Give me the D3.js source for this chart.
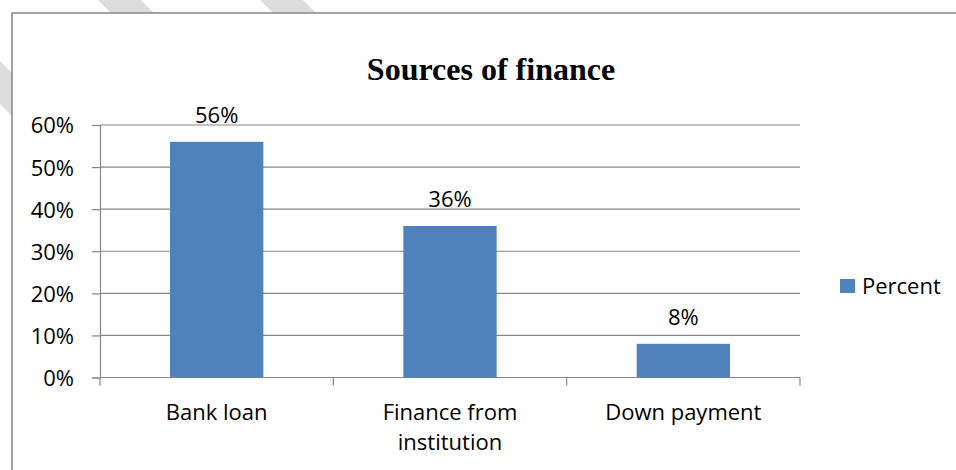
<!DOCTYPE html>
<html>
<head>
<meta charset="utf-8">
<script src="https://cdn.jsdelivr.net/npm/d3@7.9.0/dist/d3.min.js"></script>
<style>
  html, body { margin: 0; padding: 0; background: #fff; }
  svg { display: block; }
  .lbl { font-family: "Open Sans", sans-serif; font-size: 22px; fill: #000; }
</style>
</head>
<body>
<svg id="chart" width="956" height="470"></svg>
<script>
// Chart data
const categories = ["Bank loan", "Finance from institution", "Down payment"];
const percents = [56, 36, 8];
const yTicks = [0, 10, 20, 30, 40, 50, 60];
const seriesName = "Percent";
const title = "Sources of finance";

const svg = d3.select("#chart");

// Background watermark stripes (page decoration behind the chart box)
const stripes = [-104, 98, 260];
svg.append("g").selectAll("polygon")
  .data(stripes)
  .join("polygon")
  .attr("points", d => [[d, 0], [d + 43, 0], [d + 43 + 500, 500], [d + 500, 500]].join(" "))
  .attr("fill", "#dddddd");

// Chart box
svg.append("rect")
  .attr("x", 12).attr("y", 13)
  .attr("width", 960).attr("height", 480)
  .attr("fill", "#fff")
  .attr("stroke", "#878787")
  .attr("stroke-width", 1.5);

// Plot area
const plot = { left: 100, right: 800, top: 125, bottom: 377.5 };

const x = d3.scaleBand()
  .domain(categories)
  .range([plot.left, plot.right])
  .paddingInner(0.6)
  .paddingOuter(0.3);

const y = d3.scaleLinear()
  .domain([0, 60])
  .range([plot.bottom, plot.top]);

// Gridlines
svg.append("g").selectAll("line")
  .data(yTicks.filter(d => d > 0))
  .join("line")
  .attr("x1", plot.left).attr("x2", plot.right)
  .attr("y1", d => y(d)).attr("y2", d => y(d))
  .attr("stroke", "#878787")
  .attr("stroke-width", 1.2);

// Y axis
const yAxis = svg.append("g")
  .attr("transform", `translate(${plot.left},0)`)
  .call(d3.axisLeft(y).tickValues(yTicks).tickSize(8).tickPadding(18).tickFormat(d => d + "%"));
yAxis.select(".domain").attr("stroke", "#878787").attr("stroke-width", 1.2);
yAxis.selectAll(".tick line").attr("stroke", "#878787").attr("stroke-width", 1.2);
yAxis.selectAll("text").attr("class", "lbl").attr("fill", "#000").attr("dy", "0.36em");

// X axis (ticks at category boundaries)
const step = (plot.right - plot.left) / categories.length;
const xb = svg.append("g");
xb.append("line")
  .attr("x1", plot.left).attr("x2", plot.right)
  .attr("y1", plot.bottom).attr("y2", plot.bottom)
  .attr("stroke", "#878787").attr("stroke-width", 1.2);
xb.selectAll("line.tk")
  .data(d3.range(categories.length + 1))
  .join("line")
  .attr("class", "tk")
  .attr("x1", i => plot.left + i * step).attr("x2", i => plot.left + i * step)
  .attr("y1", plot.bottom).attr("y2", plot.bottom + 8)
  .attr("stroke", "#878787").attr("stroke-width", 1.2);

// Category labels, wrapped like the original
const catLines = { "Finance from institution": ["Finance from", "institution"] };
categories.forEach(c => {
  const lines = catLines[c] || [c];
  const t = svg.append("text")
    .attr("class", "lbl")
    .attr("text-anchor", "middle")
    .attr("x", x(c) + x.bandwidth() / 2)
    .attr("y", 420);
  lines.forEach((l, i) => {
    t.append("tspan")
      .attr("x", x(c) + x.bandwidth() / 2)
      .attr("dy", i === 0 ? 0 : 30)
      .text(l);
  });
});

// Bars
svg.append("g").selectAll("rect")
  .data(categories)
  .join("rect")
  .attr("x", c => x(c))
  .attr("width", x.bandwidth())
  .attr("y", (c, i) => y(percents[i]))
  .attr("height", (c, i) => plot.bottom - y(percents[i]))
  .attr("fill", "#4f81bd");

// Value labels
svg.append("g").selectAll("text")
  .data(categories)
  .join("text")
  .attr("class", "lbl")
  .attr("text-anchor", "middle")
  .attr("x", c => x(c) + x.bandwidth() / 2)
  .attr("y", (c, i) => y(percents[i]) - 19)
  .text((c, i) => percents[i] + "%");

// Title
svg.append("text")
  .attr("x", 491).attr("y", 80)
  .attr("text-anchor", "middle")
  .attr("font-family", "'Liberation Serif', 'Times New Roman', serif")
  .attr("font-weight", "bold")
  .attr("font-size", 32)
  .text(title);

// Legend
const lg = svg.append("g").attr("transform", "translate(840,279)");
lg.append("rect").attr("width", 15).attr("height", 14).attr("fill", "#4f81bd");
lg.append("text").attr("class", "lbl").attr("x", 22).attr("y", 14.5).text(seriesName);
</script>
</body>
</html>
